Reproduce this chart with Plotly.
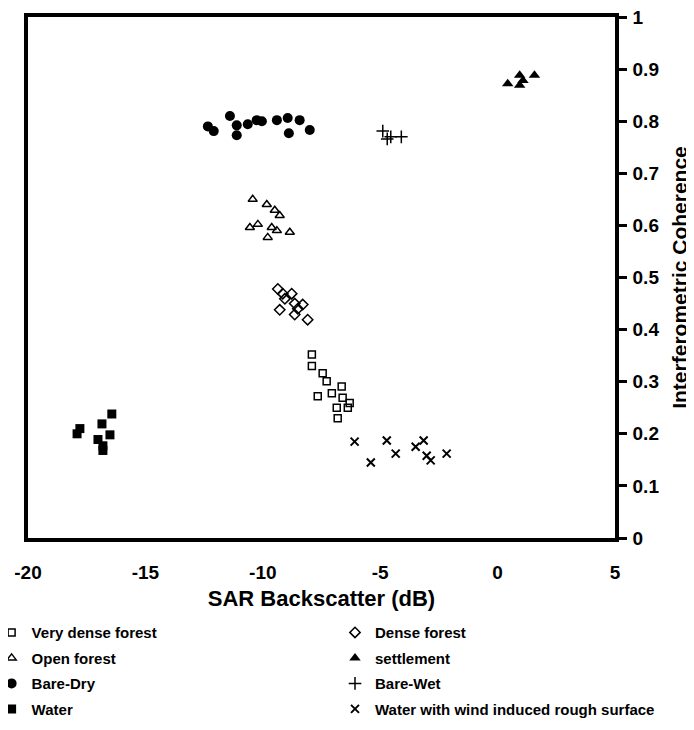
import plotly.graph_objects as go

# ---- data ----
very_dense_x = [-7.91, -7.91, -7.45, -7.28, -7.66, -7.06, -6.64, -6.60, -6.85, -6.38, -6.81, -6.30]
very_dense_y = [0.352, 0.330, 0.316, 0.301, 0.272, 0.278, 0.291, 0.269, 0.250, 0.250, 0.230, 0.259]

dense_x = [-9.36, -9.15, -8.77, -9.06, -8.64, -8.30, -9.28, -8.64, -8.51, -8.09]
dense_y = [0.478, 0.469, 0.469, 0.459, 0.450, 0.448, 0.438, 0.429, 0.440, 0.419]

open_x = [-10.43, -9.83, -9.49, -9.28, -10.55, -10.21, -9.62, -9.79, -9.40, -8.85]
open_y = [0.650, 0.640, 0.629, 0.619, 0.596, 0.602, 0.596, 0.577, 0.590, 0.587]

settle_x = [0.43, 0.94, 0.94, 1.08, 1.57]
settle_y = [0.872, 0.888, 0.869, 0.878, 0.888]

baredry_x = [-12.34, -12.09, -11.40, -11.11, -11.11, -10.64, -10.26, -10.04, -9.40, -8.94, -8.89, -8.43, -8.00]
baredry_y = [0.790, 0.781, 0.810, 0.792, 0.773, 0.794, 0.802, 0.800, 0.802, 0.806, 0.777, 0.802, 0.783]

barewet_x = [-4.89, -4.70, -4.55, -4.10]
barewet_y = [0.781, 0.766, 0.770, 0.770]

water_x = [-17.91, -17.79, -16.85, -16.43, -16.51, -17.02, -16.81, -16.81]
water_y = [0.200, 0.210, 0.219, 0.238, 0.198, 0.189, 0.177, 0.168]

rough_x = [-6.09, -5.40, -4.72, -4.34, -3.49, -3.15, -3.02, -2.85, -2.17]
rough_y = [0.185, 0.145, 0.187, 0.162, 0.175, 0.187, 0.158, 0.149, 0.162]

x_ticks = [-20, -15, -10, -5, 0, 5]
x_ticktext = ["-20", "-15", "-10", "-5", "0", "5"]
y_ticks = [0, 0.1, 0.2, 0.3, 0.4, 0.5, 0.6, 0.7, 0.8, 0.9, 1]
y_ticktext = ["0", "0.1", "0.2", "0.3", "0.4", "0.5", "0.6", "0.7", "0.8", "0.9", "1"]

FONT = "Liberation Sans"

# (name, x, y, symbol, size, line width, legend column)
series = [
    ("Very dense forest", very_dense_x, very_dense_y, "square-open", 7, 1.5, "legend"),
    ("Open forest", open_x, open_y, "triangle-up-open", 8, 1.5, "legend"),
    ("Bare-Dry", baredry_x, baredry_y, "circle", 10, 0, "legend"),
    ("Water", water_x, water_y, "square", 9, 0, "legend"),
    ("Dense forest", dense_x, dense_y, "diamond-open", 8, 1.5, "legend2"),
    ("settlement", settle_x, settle_y, "triangle-up", 10, 0, "legend2"),
    ("Bare-Wet", barewet_x, barewet_y, "cross-thin-open", 9, 1.5, "legend2"),
    ("Water with wind induced rough surface", rough_x, rough_y, "x-thin-open", 8, 2, "legend2"),
]

fig = go.Figure()
for name, xs, ys, sym, size, lw, leg in series:
    fig.add_trace(go.Scatter(
        x=xs, y=ys, mode="markers", name=name, legend=leg, legendgroup=name,
        marker=dict(symbol=sym, size=size, color="black",
                    line=dict(color="black", width=lw)),
    ))

legend_font = dict(family=FONT, size=15, weight="bold", color="black")

# the page body adds an 8px margin, so the figure is 8px smaller than the window
fig.update_layout(
    width=686, height=722,
    margin=dict(l=20, r=79, t=9, b=192, autoexpand=False),
    plot_bgcolor="white", paper_bgcolor="white",
    font=dict(family=FONT, color="black"),
    showlegend=True,
    legend=dict(
        orientation="v", x=-0.062, xanchor="left", y=-0.150, yanchor="top",
        font=legend_font, tracegroupgap=3, bgcolor="rgba(0,0,0,0)",
    ),
    legend2=dict(
        orientation="v", x=0.523, xanchor="left", y=-0.150, yanchor="top",
        font=legend_font, tracegroupgap=3, bgcolor="rgba(0,0,0,0)",
    ),
    xaxis=dict(
        range=[-20, 5], tickvals=x_ticks, ticktext=x_ticktext,
        showgrid=False, zeroline=False, showline=True, mirror=True,
        linecolor="black", linewidth=3.5, ticks="",
        ticklabelstandoff=14, automargin=False, ticklabeloverflow="allow",
        tickfont=dict(family=FONT, size=19, weight="bold"),
        title=dict(text="SAR Backscatter (dB)", standoff=10,
                   font=dict(family=FONT, size=22, weight="bold")),
    ),
    yaxis=dict(
        range=[0, 1], tickvals=y_ticks, ticktext=y_ticktext, side="right",
        showgrid=False, zeroline=False, showline=True, mirror=True,
        linecolor="black", linewidth=3.5, ticks="outside", ticklen=8, tickwidth=2.5,
        tickcolor="black", ticklabelstandoff=2, automargin=False,
        ticklabeloverflow="allow",
        tickfont=dict(family=FONT, size=19, weight="bold"),
        title=dict(text="Interferometric Coherence", standoff=15,
                   font=dict(family=FONT, size=21, weight="bold")),
    ),
)

fig.write_html("out.html")
